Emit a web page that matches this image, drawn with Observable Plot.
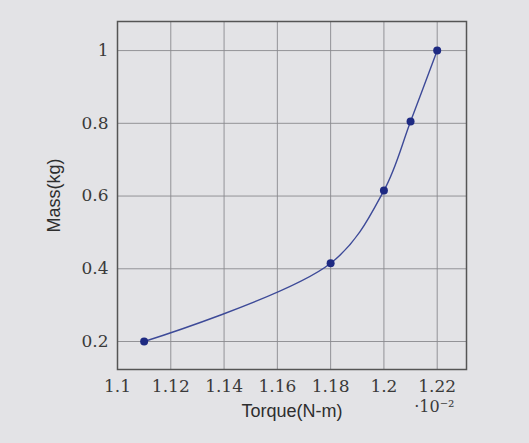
<!DOCTYPE html>
<html>
<head>
<meta charset="utf-8">
<script src="https://cdn.jsdelivr.net/npm/d3@7"></script>
<script src="https://cdn.jsdelivr.net/npm/@observablehq/plot@0.6"></script>
<style>
  html, body { margin: 0; padding: 0; background: #e3e3e6; }
  #chart svg { background: #e3e3e6; display: block; }
  #chart [aria-label="x-axis tick label"] text,
  #chart [aria-label="y-axis tick label"] text { font-family: "DejaVu Serif", "Liberation Serif", serif; font-size: 17px; }
  #chart [aria-label="x-axis label"] text,
  #chart [aria-label="y-axis label"] text { font-family: "Liberation Sans", Arial, sans-serif; font-size: 18px; fill: #2e2e2e; }
</style>
</head>
<body>
<div id="chart"></div>
<script>
const torque = [1.11, 1.18, 1.20, 1.21, 1.22];   // ×10^-2 N·m
const mass   = [0.20, 0.415, 0.615, 0.805, 1.00]; // kg
const xTicks = [1.10, 1.12, 1.14, 1.16, 1.18, 1.20, 1.22];
const xTickLabels = ["1.1", "1.12", "1.14", "1.16", "1.18", "1.2", "1.22"];
const yTicks = [0.2, 0.4, 0.6, 0.8, 1.0];
const yTickLabels = ["0.2", "0.4", "0.6", "0.8", "1"];

const data = torque.map((t, i) => ({torque: t, mass: mass[i]}));

const plot = Plot.plot({
  width: 529,
  height: 443,
  marginLeft: 117,
  marginRight: 63,
  marginTop: 21,
  marginBottom: 74,
  style: {background: "#e3e3e6", color: "#333", fontSize: "16px"},
  x: {domain: [1.10, 1.231]},
  y: {domain: [0.123, 1.08]},
  marks: [
    Plot.gridX(xTicks, {stroke: "#8a8a8e", strokeOpacity: 0.9, strokeWidth: 1}),
    Plot.gridY(yTicks, {stroke: "#8a8a8e", strokeOpacity: 0.9, strokeWidth: 1}),
    Plot.axisX(xTicks, {tickSize: 0, tickPadding: 10, fontSize: 17, fill: "#3a3a3a",
      tickFormat: d => xTickLabels[xTicks.indexOf(d)], label: "Torque(N-m)", labelAnchor: "center", labelOffset: 47, labelArrow: "none"}),
    Plot.axisY(yTicks, {tickSize: 0, tickPadding: 9, fontSize: 17, fill: "#3a3a3a",
      tickFormat: d => yTickLabels[yTicks.findIndex(v => Math.abs(v - d) < 1e-9)], label: "Mass(kg)", labelAnchor: "center", labelOffset: 70, labelArrow: "none"}),
    Plot.frame({stroke: "#555", strokeWidth: 1.5}),
    Plot.line(data, {x: "torque", y: "mass", curve: "catmull-rom", stroke: "#3d4a98", strokeWidth: 1.4}),
    Plot.dot(data, {x: "torque", y: "mass", r: 4, fill: "#1e2a82", stroke: "none"}),
    Plot.text(["·10⁻²"], {frameAnchor: "bottom-right", dx: -12, dy: 42, fontSize: 16, fill: "#3a3a3a",
      fontFamily: "DejaVu Serif, serif", textAnchor: "end"})
  ]
});
document.getElementById("chart").appendChild(plot);
</script>
</body>
</html>
